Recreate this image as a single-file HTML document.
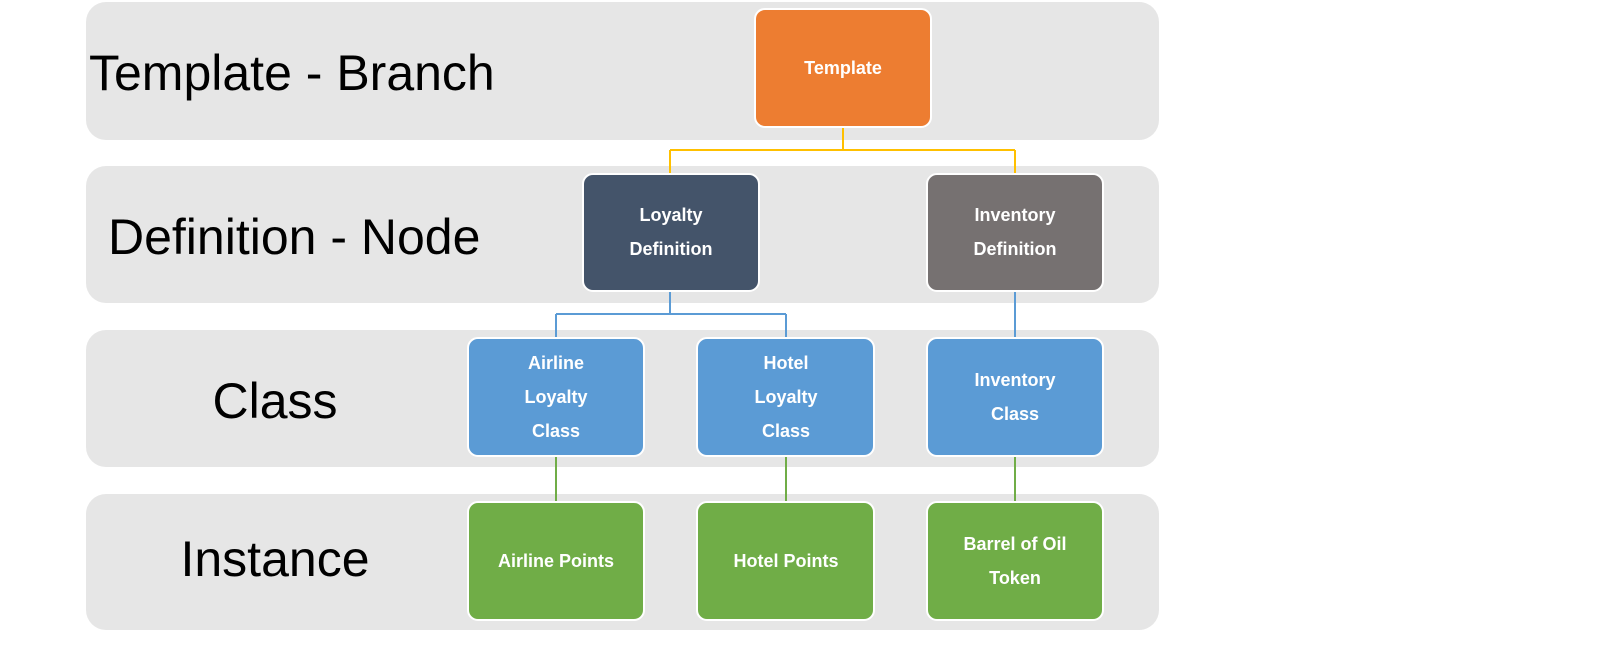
<!DOCTYPE html>
<html><head><meta charset="utf-8"><style>
html,body{margin:0;padding:0;background:#fff;}
svg{display:block;}
.b{font-family:"Liberation Sans",sans-serif;font-size:50px;fill:#000;}
.t{font-family:"Liberation Sans",sans-serif;font-size:18px;font-weight:bold;fill:#fff;text-anchor:middle;dominant-baseline:central;}
</style></head><body>
<svg width="1604" height="645" viewBox="0 0 1604 645" xmlns="http://www.w3.org/2000/svg">
<rect x="86" y="2" width="1073" height="138" rx="20" fill="#e6e6e6"/>
<rect x="86" y="166" width="1073" height="137" rx="20" fill="#e6e6e6"/>
<rect x="86" y="330" width="1073" height="137" rx="20" fill="#e6e6e6"/>
<rect x="86" y="494" width="1073" height="136" rx="20" fill="#e6e6e6"/>
<text class="b" x="89" y="90">Template - Branch</text>
<text class="b" x="108" y="254">Definition - Node</text>
<text class="b" x="275" y="418" text-anchor="middle">Class</text>
<text class="b" x="275" y="576" text-anchor="middle">Instance</text>
<g fill="none" stroke-width="2">
<path d="M843 127V150M670 150H1015M670 150V174M1015 150V174" stroke="#ffc000"/>
<path d="M670 291V314M556 314H786M556 314V338M786 314V338M1015 291V338" stroke="#5b9bd5"/>
<path d="M556 456V502M786 456V502M1015 456V502" stroke="#70ad47"/>
</g>
<g stroke="#fff" stroke-width="2">
<rect x="755" y="9" width="176" height="118" rx="10" fill="#ed7d31"/>
<rect x="583" y="174" width="176" height="117" rx="10" fill="#44546a"/>
<rect x="927" y="174" width="176" height="117" rx="10" fill="#767171"/>
<rect x="468" y="338" width="176" height="118" rx="10" fill="#5b9bd5"/>
<rect x="697" y="338" width="177" height="118" rx="10" fill="#5b9bd5"/>
<rect x="927" y="338" width="176" height="118" rx="10" fill="#5b9bd5"/>
<rect x="468" y="502" width="176" height="118" rx="10" fill="#70ad47"/>
<rect x="697" y="502" width="177" height="118" rx="10" fill="#70ad47"/>
<rect x="927" y="502" width="176" height="118" rx="10" fill="#70ad47"/>
</g>
<text class="t" x="843" y="68">Template</text>
<text class="t" x="671" y="215">Loyalty</text><text class="t" x="671" y="249">Definition</text>
<text class="t" x="1015" y="215">Inventory</text><text class="t" x="1015" y="249">Definition</text>
<text class="t" x="556" y="363">Airline</text><text class="t" x="556" y="397">Loyalty</text><text class="t" x="556" y="431">Class</text>
<text class="t" x="786" y="363">Hotel</text><text class="t" x="786" y="397">Loyalty</text><text class="t" x="786" y="431">Class</text>
<text class="t" x="1015" y="380">Inventory</text><text class="t" x="1015" y="414">Class</text>
<text class="t" x="556" y="561">Airline Points</text>
<text class="t" x="786" y="561">Hotel Points</text>
<text class="t" x="1015" y="544">Barrel of Oil</text><text class="t" x="1015" y="578">Token</text>
</svg>
</body></html>
